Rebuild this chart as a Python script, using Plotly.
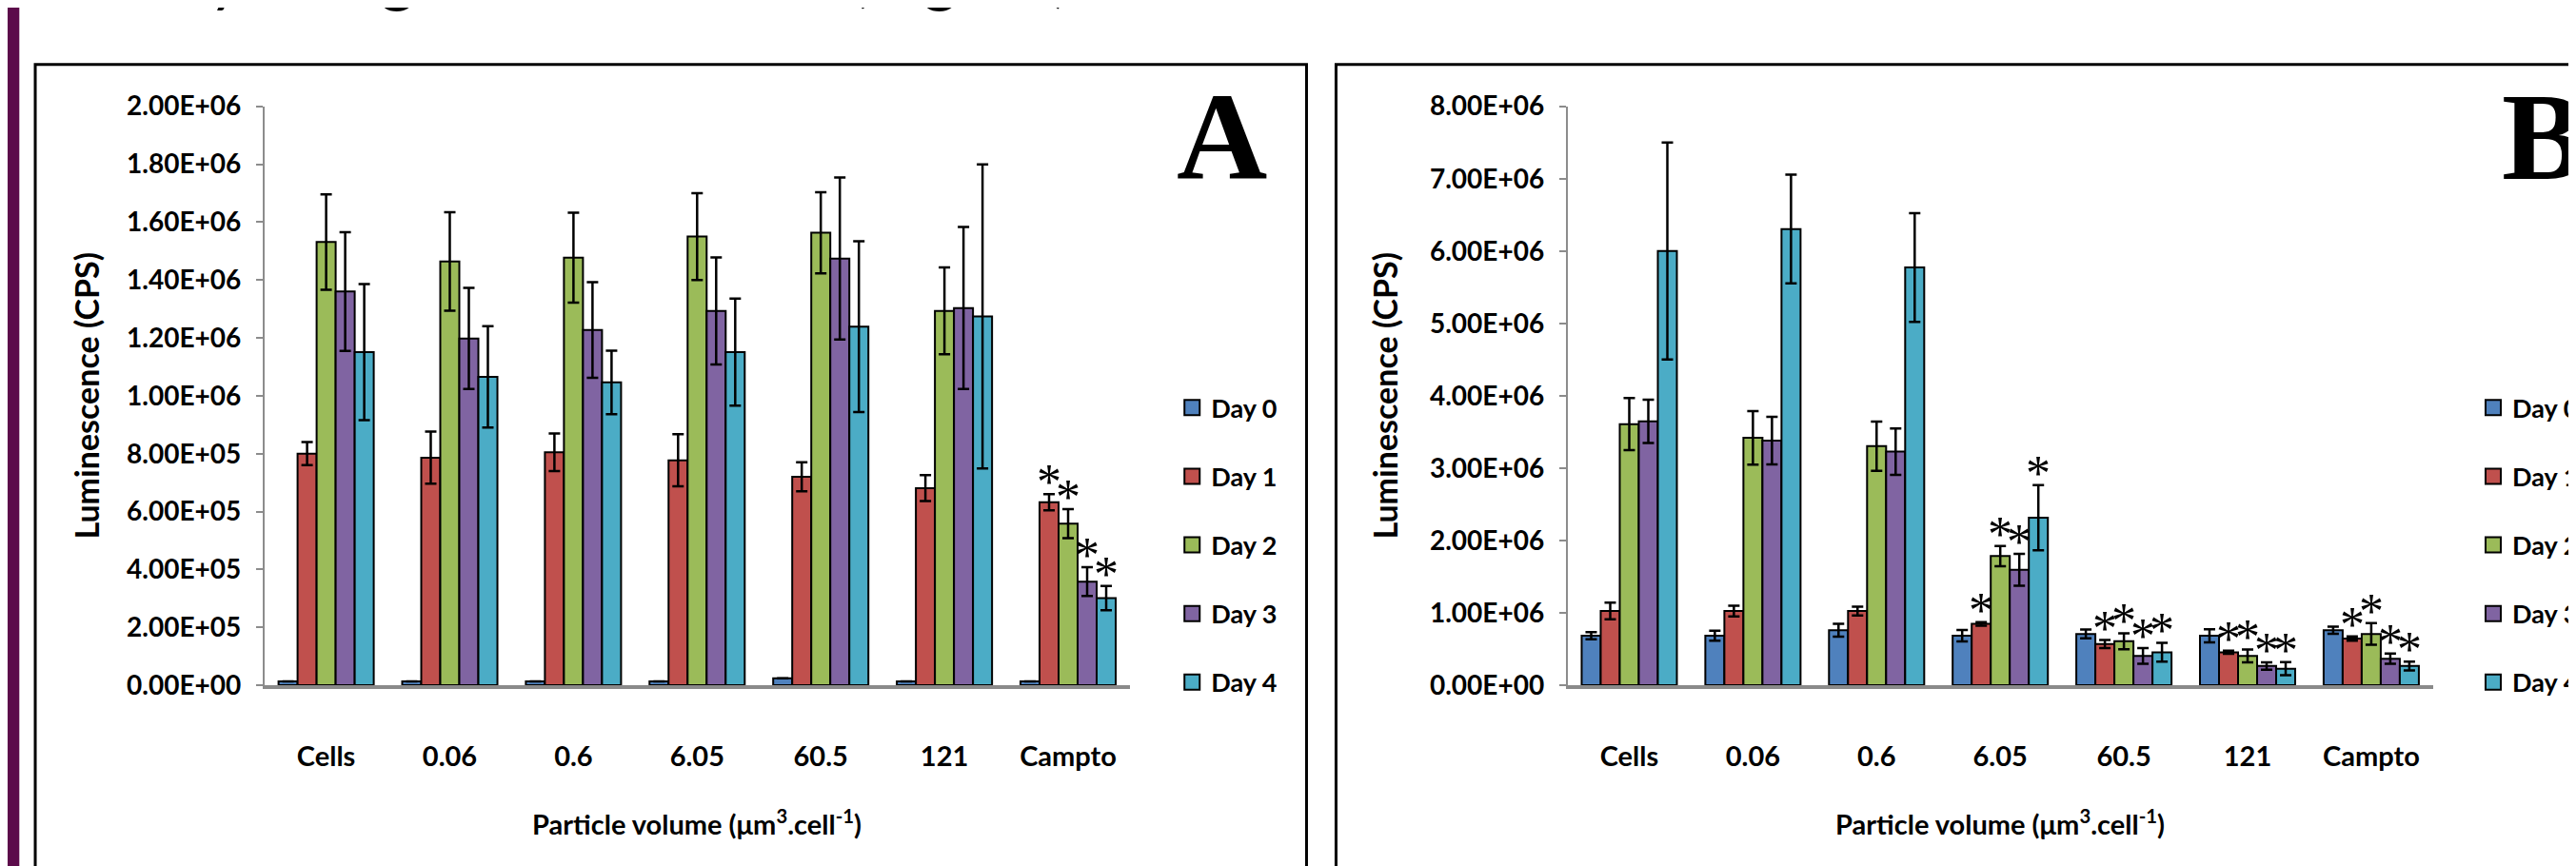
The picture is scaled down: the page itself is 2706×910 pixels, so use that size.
import plotly.graph_objects as go

# ---------------- data ----------------
categories = ["Cells", "0.06", "0.6", "6.05", "60.5", "121", "Campto"]
days = ["Day 0", "Day 1", "Day 2", "Day 3", "Day 4"]
colors = ["#4F81BD", "#C0504D", "#9BBB59", "#8064A2", "#4BACC6"]

# Panel A  (luminescence, CPS)
a_day0 = [1.3e4, 1.3e4, 1.3e4, 1.3e4, 2.4e4, 1.3e4, 1.3e4]
a_day1 = [8.00e5, 7.86e5, 8.05e5, 7.77e5, 7.20e5, 6.81e5, 6.32e5]
a_day2 = [1.531e6, 1.464e6, 1.477e6, 1.550e6, 1.563e6, 1.293e6, 5.58e5]
a_day3 = [1.360e6, 1.198e6, 1.227e6, 1.293e6, 1.474e6, 1.303e6, 3.58e5]
a_day4 = [1.151e6, 1.065e6, 1.046e6, 1.151e6, 1.239e6, 1.274e6, 3.01e5]
a_err0 = [0, 0, 0, 0, 0, 0, 0]
a_err1 = [4.0e4, 9.0e4, 6.5e4, 9.0e4, 5.0e4, 4.5e4, 2.8e4]
a_err2 = [1.65e5, 1.70e5, 1.55e5, 1.50e5, 1.40e5, 1.50e5, 5.0e4]
a_err3 = [2.05e5, 1.75e5, 1.65e5, 1.85e5, 2.80e5, 2.80e5, 5.0e4]
a_err4 = [2.35e5, 1.75e5, 1.10e5, 1.85e5, 2.95e5, 5.25e5, 4.2e4]
a_significant = ["Campto"]

# Panel B
b_day0 = [6.84e5, 6.84e5, 7.60e5, 6.84e5, 7.09e5, 6.84e5, 7.60e5]
b_day1 = [1.025e6, 1.025e6, 1.025e6, 8.48e5, 5.70e5, 4.56e5, 6.46e5]
b_day2 = [3.608e6, 3.418e6, 3.304e6, 1.785e6, 6.08e5, 4.05e5, 7.09e5]
b_day3 = [3.646e6, 3.380e6, 3.228e6, 1.595e6, 4.05e5, 2.66e5, 3.67e5]
b_day4 = [6.000e6, 6.304e6, 5.772e6, 2.316e6, 4.56e5, 2.28e5, 2.66e5]
b_err0 = [5.0e4, 7.0e4, 9.0e4, 8.0e4, 6.0e4, 9.0e4, 5.0e4]
b_err1 = [1.15e5, 7.5e4, 6.0e4, 2.5e4, 5.5e4, 2.0e4, 3.0e4]
b_err2 = [3.6e5, 3.7e5, 3.4e5, 1.4e5, 1.1e5, 9.0e4, 1.5e5]
b_err3 = [3.0e5, 3.3e5, 3.2e5, 2.2e5, 1.1e5, 5.0e4, 7.0e4]
b_err4 = [1.5e6, 7.5e5, 7.5e5, 4.5e5, 1.3e5, 9.0e4, 6.0e4]
b_significant = ["6.05", "60.5", "121", "Campto"]
significant_days = [1, 2, 3, 4]

a_yticks = [0, 2e5, 4e5, 6e5, 8e5, 1e6, 1.2e6, 1.4e6, 1.6e6, 1.8e6, 2e6]
b_yticks = [0, 1e6, 2e6, 3e6, 4e6, 5e6, 6e6, 7e6, 8e6]

x_title = "Particle volume (μm<sup>3</sup>.cell<sup>-1</sup>)"
y_title = "Luminescence (CPS)"
slide_title = "Assay using luminescence (Figure)"

# ---------------- layout helpers ----------------
W, H = 2706, 910
FONT = "Lato"
SERIF = "Liberation Serif"
BARGAP = 0.23


def fx(p):
    return p / W


def fy(p):
    return 1 - p / H


panels = [
    dict(name="A", xa="x", ya="y", xdom=(274, 1198),
         values=[a_day0, a_day1, a_day2, a_day3, a_day4],
         errors=[a_err0, a_err1, a_err2, a_err3, a_err4],
         sig=a_significant, yticks=a_yticks, legend="legend",
         legend_x=1244, label_x=1296, box=(29.5, 1386.5),
         ytitle_x=84),
    dict(name="B", xa="x2", ya="y2", xdom=(1665, 2589),
         values=[b_day0, b_day1, b_day2, b_day3, b_day4],
         errors=[b_err0, b_err1, b_err2, b_err3, b_err4],
         sig=b_significant, yticks=b_yticks, legend="legend2",
         legend_x=2633, label_x=2707, box=(1418, 2740),
         ytitle_x=1470),
]

fig = go.Figure()
annotations = []
shapes = []

# purple slide strip
shapes.append(dict(type="rect", xref="paper", yref="paper", x0=0, x1=fx(12.5),
                   y0=-0.05, y1=1.05, fillcolor="#5C0B4B", line=dict(width=0),
                   layer="below"))

for p in panels:
    for j, day in enumerate(days):
        fig.add_trace(go.Bar(
            x=categories, y=p["values"][j], name=day,
            marker=dict(color=colors[j], line=dict(color="black", width=2)),
            error_y=dict(type="data", array=p["errors"][j], visible=True,
                         color="black", thickness=2.5, width=6),
            xaxis=p["xa"], yaxis=p["ya"], showlegend=False,
        ))
        # legend entry
        fig.add_trace(go.Scatter(
            x=[None], y=[None], mode="markers", name=day,
            marker=dict(symbol="square", size=16, color=colors[j],
                        line=dict(color="black", width=2)),
            xaxis=p["xa"], yaxis=p["ya"], legend=p["legend"],
            legendgroup=p["name"] + str(j), showlegend=True,
        ))
    # significance asterisks
    bw = (1 - BARGAP) / len(days)
    for j in significant_days:
        for cat in p["sig"]:
            i = categories.index(cat)
            annotations.append(dict(
                x=i + (j - 2) * bw, y=p["values"][j][i] + p["errors"][j][i],
                xref=p["xa"], yref=p["ya"], text="*", showarrow=False,
                yanchor="bottom", xanchor="center", yshift=-17,
                borderpad=0,
                font=dict(family=SERIF, size=52, color="black")))
    # panel letter
    annotations.append(dict(
        x=fx(p["label_x"]), y=fy(201), xref="paper", yref="paper",
        text=p["name"], showarrow=False, xanchor="center", yanchor="bottom",
        font=dict(family=SERIF, size=132, color="black", weight="bold")))
    # axis titles
    cx = (p["xdom"][0] + p["xdom"][1]) / 2
    annotations.append(dict(
        x=fx(cx), y=fy(871), xref="paper", yref="paper", text=x_title,
        showarrow=False, xanchor="center", yanchor="middle",
        font=dict(family=FONT, size=29, color="black", weight="bold")))
    annotations.append(dict(
        x=fx(p["ytitle_x"]), y=fy(405), xref="paper", yref="paper",
        text=y_title, textangle=-90, showarrow=False,
        xanchor="center", yanchor="middle",
        font=dict(family=FONT, size=34, color="black", weight="bold")))
    # panel frame
    shapes.append(dict(type="rect", xref="paper", yref="paper",
                       x0=fx(p["box"][0]), x1=fx(p["box"][1]),
                       y0=-0.1, y1=fy(43.5),
                       line=dict(color="black", width=3), layer="below"))

# slide title (only the descenders are visible above the panels)
annotations.append(dict(
    x=fx(66), y=fy(-10.5), xref="paper", yref="paper", text=slide_title,
    showarrow=False, xanchor="left", yanchor="bottom",
    font=dict(family=FONT, size=71, color="black")))

axis_font = dict(family=FONT, size=28, color="black", weight="bold")
cat_font = dict(family=FONT, size=29, color="black", weight="bold")
legend_font = dict(family=FONT, size=27, color="black", weight="bold")

layout = dict(
    width=W, height=H, margin=dict(l=0, r=0, t=0, b=0),
    paper_bgcolor="white", plot_bgcolor="white",
    barmode="group", bargap=BARGAP, bargroupgap=0,
    annotations=annotations, shapes=shapes,
)

for k, p in enumerate(panels):
    sx = "" if k == 0 else str(k + 1)
    layout["xaxis" + sx] = dict(
        domain=[fx(p["xdom"][0]), fx(p["xdom"][1])], anchor=p["ya"],
        type="category", range=[-0.5, 6.5], showgrid=False, zeroline=False,
        showline=True, linecolor="#8A8A8A", linewidth=4, ticks="",
        ticklabelstandoff=46, tickfont=cat_font, fixedrange=True)
    layout["yaxis" + sx] = dict(
        domain=[fy(721), fy(89)], anchor=p["xa"],
        range=[0, p["yticks"][-1]], showgrid=False, zeroline=False,
        showline=True, linecolor="#8C8C8C", linewidth=1.5,
        ticks="outside", ticklen=7, tickwidth=2, tickcolor="#8C8C8C",
        tickvals=p["yticks"], ticktext=[f"{v:.2E}" for v in p["yticks"]],
        ticklabelstandoff=10, tickfont=axis_font, fixedrange=True)
    layout[p["legend"]] = dict(
        x=fx(p["legend_x"]), xanchor="left", y=fy(393), yanchor="top",
        font=legend_font, bgcolor="rgba(0,0,0,0)", borderwidth=0,
        tracegroupgap=34, itemsizing="trace", traceorder="grouped")

fig.update_layout(**layout)
fig.write_html("out.html")
